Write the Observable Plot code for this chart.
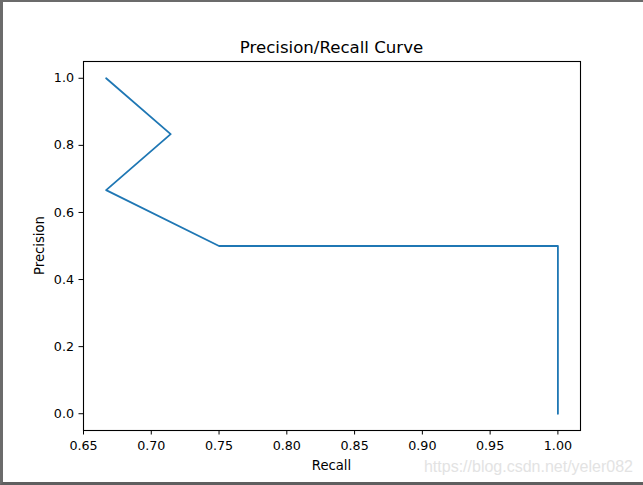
<!DOCTYPE html>
<html>
<head>
<meta charset="utf-8">
<script src="https://cdn.jsdelivr.net/npm/d3@7"></script>
<script src="https://cdn.jsdelivr.net/npm/@observablehq/plot@0.6"></script>
<style>
  html, body { margin: 0; padding: 0; background: #fff; }
  #wrap { position: relative; width: 643px; height: 485px; overflow: hidden; }
  #border { position: absolute; left: 0; top: 0; width: 640px; height: 480px;
    border-left: 3px solid #6b6b6b; border-top: 2px solid #6b6b6b; border-bottom: 3px solid #5f5f5f;
    pointer-events: none; }
  svg { display: block; }
</style>
</head>
<body>
<div id="wrap"><div id="border"></div></div>
<script>
const recall = [0.6667, 0.7143, 0.6667, 0.75, 1.0, 1.0];
const precision = [1.0, 0.8333, 0.6667, 0.5, 0.5, 0.0];
const xTicks = [0.65, 0.70, 0.75, 0.80, 0.85, 0.90, 0.95, 1.00];
const yTicks = [0.0, 0.2, 0.4, 0.6, 0.8, 1.0];
const titleText = "Precision/Recall Curve";
const xLabel = "Recall";
const yLabel = "Precision";
const watermark = "https://blog.csdn.net/yeler082";

const data = recall.map((r, i) => ({recall: r, precision: precision[i]}));

const font = "DejaVu Sans, sans-serif";
const chart = Plot.plot({
  width: 643,
  height: 485,
  marginLeft: 83,
  marginRight: 63,
  marginTop: 61,
  marginBottom: 55,
  style: {fontFamily: font, fontSize: "12.7px", color: "#000", background: "transparent"},
  x: {domain: [0.65, 1.01667]},
  y: {domain: [-0.05, 1.05]},
  marks: [
    Plot.frame({stroke: "#000", strokeWidth: 1.1}),
    Plot.axisX({ticks: xTicks, tickFormat: d3.format(".2f"), tickSize: 4.5, tickPadding: 6, label: null, stroke: "#000", fill: "#000", fontSize: 12.7}),
    Plot.axisY({ticks: yTicks, tickFormat: d3.format(".1f"), tickSize: 4.5, tickPadding: 5, label: null, stroke: "#000", fill: "#000", fontSize: 12.7}),
    Plot.line(data, {x: "recall", y: "precision", stroke: "#1f77b4", strokeWidth: 1.8, curve: "linear"})
  ]
});

const svg = d3.select(chart);
svg.append("text").attr("x", 331.5).attr("y", 52.5).attr("text-anchor", "middle")
  .attr("font-family", font).attr("font-size", 16.6).attr("fill", "#000").text(titleText);
svg.append("text").attr("x", 331.5).attr("y", 470).attr("text-anchor", "middle")
  .attr("font-family", font).attr("font-size", 13.2).attr("fill", "#000").text(xLabel);
svg.append("text").attr("transform", "translate(44,245.5) rotate(-90)").attr("text-anchor", "middle")
  .attr("font-family", font).attr("font-size", 13.2).attr("fill", "#000").text(yLabel);
svg.append("text").attr("x", 633).attr("y", 471.5).attr("text-anchor", "end")
  .attr("font-family", "Liberation Sans, Arial, sans-serif").attr("font-size", 16).attr("fill", "#e3e3e3").text(watermark);

document.getElementById("wrap").insertBefore(chart, document.getElementById("border"));
</script>
</body>
</html>
